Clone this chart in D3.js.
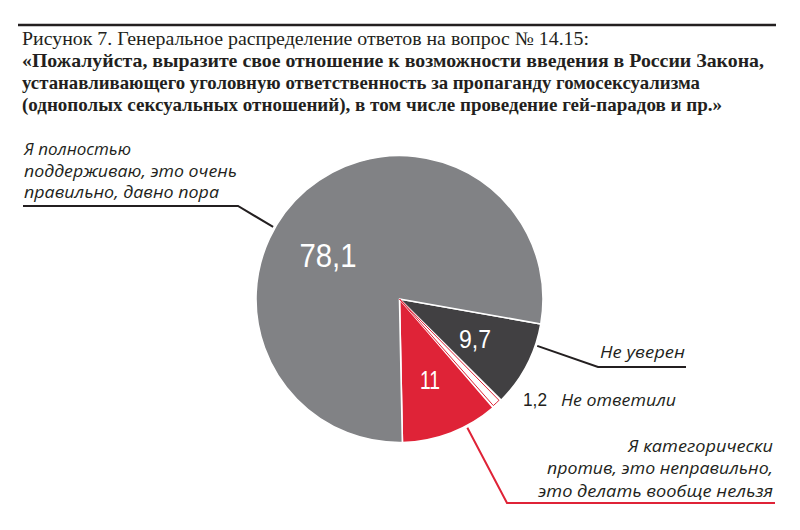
<!DOCTYPE html>
<html><head><meta charset="utf-8">
<script src="https://cdn.jsdelivr.net/npm/d3@7"></script>
<style>body{margin:0;background:#fff}svg{display:block}</style>
</head><body>
<svg id="c" width="800" height="530"></svg>
<script>
// ---- data ----
const titleLines = [
  "Рисунок 7. Генеральное распределение ответов на вопрос № 14.15:",
  "«Пожалуйста, выразите свое отношение к возможности введения в России Закона,",
  "устанавливающего уголовную ответственность за пропаганду гомосексуализма",
  "(однополых сексуальных отношений), в том числе проведение гей-парадов и пр.»"
];
const categories = ["Не уверен", "Не ответили", "Я категорически против", "Я полностью поддерживаю"];
const values = [9.7, 1.2, 11, 78.1];
const valueLabels = ["9,7", "1,2", "11", "78,1"];
const labelLines = [
  ["Не уверен"],
  ["Не ответили"],
  ["Я категорически", "против, это неправильно,", "это делать вообще нельзя"],
  ["Я полностью", "поддерживаю, это очень", "правильно, давно пора"]
];

// ---- style / layout ----
const sliceColors = ["#414042", "#ffffff", "#df2337", "#818285"];
const cx = 399.5, cy = 299, R = 143.5;
const deg = Math.PI / 180;
const svg = d3.select("#c");

// title rule
svg.append("line").attr("x1", 18).attr("x2", 776).attr("y1", 25).attr("y2", 25)
  .attr("stroke", "#231f20").attr("stroke-width", 2.5);

const titleY = [45, 67, 89, 111];
const titleW = [567, 742, 678, 700];
titleLines.forEach((t, i) => {
  svg.append("text").attr("x", 22).attr("y", titleY[i])
    .attr("font-family", "Liberation Serif, serif")
    .attr("font-size", 19).attr("font-weight", i === 0 ? "normal" : "bold")
    .attr("fill", "#231f20")
    .attr("textLength", titleW[i]).attr("lengthAdjust", "spacingAndGlyphs")
    .text(t);
});

// pie
const pie = d3.pie().sort(null).value(d => d).startAngle(100 * deg).endAngle(460 * deg);
const arcs = pie(values);
const arc = d3.arc().innerRadius(0).outerRadius(R);
const g = svg.append("g").attr("transform", `translate(${cx},${cy})`);
g.selectAll("path.s").data(arcs).enter().append("path").attr("class", "s")
  .attr("d", arc)
  .attr("fill", (d, i) => sliceColors[i])
  .attr("stroke", "#ffffff").attr("stroke-width", 1.6).attr("stroke-linejoin", "round");
// outline for the tiny white slice
const small = arcs[1];
g.append("path")
  .attr("d", d3.arc().innerRadius(0).outerRadius(R - 1.5)
    .startAngle(small.startAngle + 0.6 * deg).endAngle(small.endAngle - 0.6 * deg)())
  .attr("fill", "#fff").attr("stroke", "#df2337").attr("stroke-width", 1);

// value labels (inside / outside)
const valPos = [
  {x: 475, y: 348, w: 32, fs: 25, fill: "#fff"},
  {x: 535, y: 406, w: 24, fs: 19, fill: "#231f20"},
  {x: 430, y: 389, w: 20, fs: 25, fill: "#fff"},
  {x: 328, y: 267, w: 57, fs: 34, fill: "#fff"}
];
valueLabels.forEach((t, i) => {
  const p = valPos[i];
  svg.append("text").attr("x", p.x).attr("y", p.y).attr("text-anchor", "middle")
    .attr("font-family", "Liberation Sans, Arial, sans-serif").attr("font-size", p.fs)
    .attr("fill", p.fill)
    .attr("textLength", p.w).attr("lengthAdjust", "spacingAndGlyphs")
    .text(t);
});

// category labels
const pt = (a, r) => [cx + r * Math.sin(a * deg), cy - r * Math.cos(a * deg)];
const lab = [
  {anchor: "start", x: 600, ys: [358], ws: [85], leader: {a: 108.8, elbow: [598, 367], end: 686, color: "#231f20"}},
  {anchor: "start", x: 561, ys: [406], ws: [115], leader: null},
  {anchor: "end", x: 773, ys: [452, 474, 497], ws: [145, 226, 235], leader: {a: 152.2, elbow: [507, 503], end: 775, color: "#df2337"}},
  {anchor: "start", x: 24, ys: [155, 177, 198], ws: [107, 213, 195], leader: {a: 299.7, elbow: [238, 206], end: 23, color: "#231f20"}}
];
labelLines.forEach((lines, i) => {
  const L = lab[i];
  lines.forEach((t, j) => {
    svg.append("text").attr("x", L.x).attr("y", L.ys[j]).attr("text-anchor", L.anchor)
      .attr("font-family", "Open Sans, Liberation Sans, sans-serif").attr("font-style", "italic")
      .attr("font-size", 17).attr("fill", "#231f20")
      .attr("textLength", L.ws[j]).attr("lengthAdjust", "spacingAndGlyphs")
      .text(t);
  });
  if (L.leader) {
    const s = pt(L.leader.a, R + 2);
    svg.append("polyline")
      .attr("points", [s, L.leader.elbow, [L.leader.end, L.leader.elbow[1]]].map(p => p.join(",")).join(" "))
      .attr("fill", "none").attr("stroke", L.leader.color).attr("stroke-width", 2);
  }
});
</script>
</body></html>
